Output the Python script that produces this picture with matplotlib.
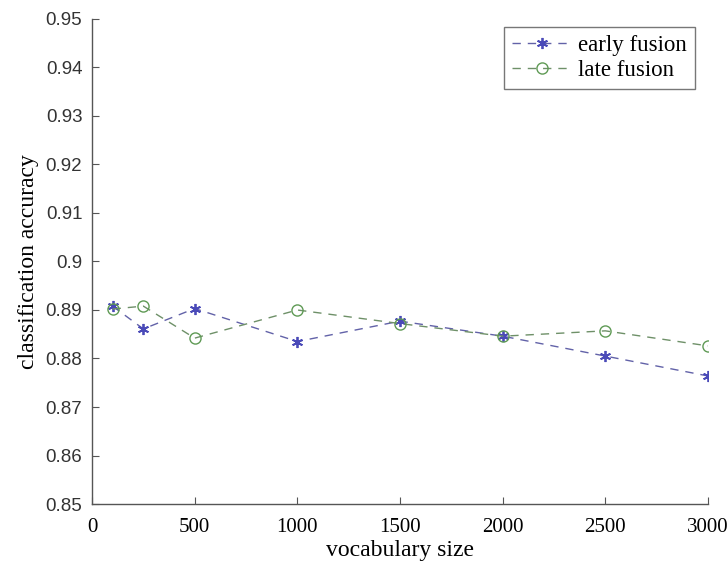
import matplotlib
matplotlib.use("Agg")
import matplotlib.pyplot as plt

vocab_size = [100, 250, 500, 1000, 1500, 2000, 2500, 3000]
early_fusion = [0.8908, 0.8861, 0.8903, 0.8835, 0.8877, 0.8846, 0.8805, 0.8764]
late_fusion = [0.8902, 0.8908, 0.8842, 0.8900, 0.8872, 0.8846, 0.8857, 0.8826]

x_ticks = [0, 500, 1000, 1500, 2000, 2500, 3000]
y_ticks = [0.85, 0.86, 0.87, 0.88, 0.89, 0.90, 0.91, 0.92, 0.93, 0.94, 0.95]
y_tick_labels = ["0.85", "0.86", "0.87", "0.88", "0.89", "0.9",
                 "0.91", "0.92", "0.93", "0.94", "0.95"]

serif = ["Liberation Serif", "DejaVu Serif"]
sans = ["Liberation Sans", "DejaVu Sans"]

fig = plt.figure(figsize=(7.28, 5.62), dpi=100)
ax = fig.add_axes([0.1264, 0.1032, 0.8461, 0.863])

# six-armed asterisk marker for the early-fusion series
asterisk = (6, 2, 0)
ax.plot(vocab_size, early_fusion, linestyle=(0, (6, 5)), color="#6262a8",
        linewidth=1.0, marker=asterisk, markersize=8, markerfacecolor="#4a4ab8",
        markeredgecolor="#4a4ab8", markeredgewidth=1.3, label="early fusion")
ax.plot(vocab_size, late_fusion, linestyle=(0, (6, 5)), color="#6e9068",
        linewidth=1.0, marker="o", markersize=8, markerfacecolor="none",
        markeredgecolor="#5f9a55", markeredgewidth=1.0, label="late fusion")

ax.set_xlim(0, 3000)
ax.set_ylim(0.85, 0.95)
ax.set_xticks(x_ticks)
ax.set_xticklabels([str(t) for t in x_ticks], fontfamily=serif, fontsize=15)
ax.set_yticks(y_ticks)
ax.set_yticklabels(y_tick_labels, fontfamily=sans, fontsize=13.5, color="#333333")

for side in ("top", "right"):
    ax.spines[side].set_visible(False)
for side in ("left", "bottom"):
    ax.spines[side].set_color("#555555")
    ax.spines[side].set_linewidth(1.0)
ax.tick_params(direction="in", length=5, width=0.8, color="#555555")
ax.tick_params(axis="x", pad=10)
ax.tick_params(axis="y", pad=7)

ax.set_xlabel("vocabulary size", fontfamily=serif, fontsize=17, labelpad=2)
ax.set_ylabel("classification accuracy", fontfamily=serif, fontsize=17, labelpad=5)

leg = ax.legend(loc="upper right", bbox_to_anchor=(0.979, 0.983),
                prop={"family": serif, "size": 16.5}, frameon=True, fancybox=False,
                handlelength=2.6, handletextpad=0.3, borderpad=0.35,
                labelspacing=0.15, borderaxespad=0.0)
leg.get_frame().set_edgecolor("#555555")
leg.get_frame().set_linewidth(1.0)

fig.savefig("out.png", dpi=100)
